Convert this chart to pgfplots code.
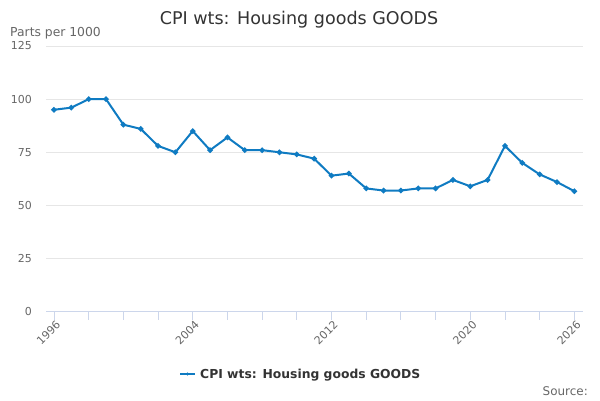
\documentclass[border=0pt]{standalone}
\usepackage{pgfplots}
\pgfplotsset{compat=1.18}
\usepackage{fontspec}
\setmainfont{DejaVu Sans}
\definecolor{linec}{HTML}{0F7BC2}
\definecolor{gridc}{HTML}{E6E6E6}
\definecolor{axc}{HTML}{CCD6EB}
\definecolor{labc}{HTML}{666666}
\definecolor{titc}{HTML}{333333}
\begin{document}
\begin{tikzpicture}[x=1bp,y=1bp]
\path[use as bounding box] (0,0) rectangle (600,400);
\begin{axis}[
  at={(46bp,88.3bp)}, anchor=south west,
  scale only axis, width=537bp, height=265.7bp,
  xmin=1995.54, xmax=2026.5, ymin=0, ymax=125,
  ytick={0,25,50,75,100,125},
  xtick={1996,2004,2012,2020,2026},
  minor xtick={1998,2000,2002,2006,2008,2010,2014,2016,2018,2022,2024},
  axis line style={draw=none},
  xtick pos=lower, ytick pos=left,
  ymajorgrids, major grid style={gridc, line width=0.8bp},
  xtick style={axc, line width=0.8bp},
  ytick style={draw=none},
  major tick length=8bp, minor tick length=8bp,
  xtick align=outside,
  /pgf/number format/assume math mode=true,
  /pgf/number format/1000 sep={},
  ticklabel style={font=\fontsize{11}{13}\selectfont, text=labc},
  yticklabel style={anchor=east, inner sep=0pt, xshift=-14bp},
  xticklabel style={rotate=45, anchor=north east, inner sep=1bp, xshift=2bp},
  clip=false,
]
\draw[axc, line width=0.8bp] (rel axis cs:0,0) -- (rel axis cs:1,0);
\addplot[linec, line width=2bp, mark=*, mark size=1.6bp, mark options={solid}] coordinates {
(1996,95)(1997,96)(1998,100)(1999,100)(2000,88)(2001,86)(2002,78)(2003,75)
(2004,85)(2005,76)(2006,82)(2007,76)(2008,76)(2009,75)(2010,74)(2011,72)
(2012,64)(2013,65)(2014,58)(2015,57)(2016,57)(2017,58)(2018,58)(2019,62)
(2020,59)(2021,62)(2022,78)(2023,70)(2024,64.6)(2025,61)(2026,56.7)
};
\end{axis}
\node[anchor=base, text=titc, font=\fontsize{17.6}{20}\selectfont, inner sep=0] at (299,376) {CPI wts: Housing goods GOODS};
\node[anchor=base west, text=labc, font=\fontsize{12.4}{14}\selectfont, inner sep=0] at (10,364) {Parts per 1000};
\draw[linec, line width=2bp] (180,26) -- (195,26);
\fill[linec] (187.5,26) circle (1.6);
\node[anchor=base west, text=titc, font=\bfseries\fontsize{12.4}{14}\selectfont, inner sep=0] at (200,21.5) {CPI wts: Housing goods GOODS};
\node[anchor=base east, text=labc, font=\fontsize{12}{14}\selectfont, inner sep=0] at (588,5) {Source:};
\end{tikzpicture}
\end{document}
